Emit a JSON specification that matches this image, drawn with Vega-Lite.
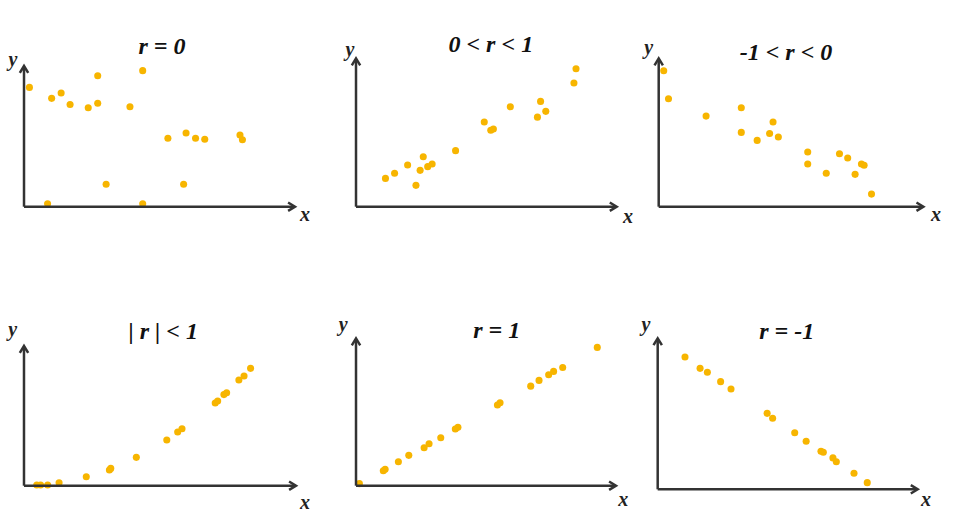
{
  "$schema": "https://vega.github.io/schema/vega-lite/v6.json",
  "padding": 0,
  "background": "white",
  "spacing": 0,
  "config": {"view": {"stroke": null}, "axis": {"disable": true}, "concat": {"spacing": 0}, "text": {"font": "'Liberation Serif', 'Times New Roman', Times, 'DejaVu Serif', serif", "fontStyle": "italic", "fontWeight": "bold", "align": "center", "baseline": "middle"}},
  "datasets": {
    "p1": [{"x":0.20,"y":8.48},{"x":1.02,"y":7.70},{"x":1.37,"y":8.08},{"x":1.70,"y":7.27},{"x":2.37,"y":7.03},{"x":2.72,"y":7.35},{"x":2.72,"y":9.31},{"x":3.91,"y":7.11},{"x":4.38,"y":9.67},{"x":5.31,"y":4.86},{"x":5.98,"y":5.24},{"x":6.33,"y":4.86},{"x":6.67,"y":4.79},{"x":7.97,"y":5.09},{"x":8.06,"y":4.76},{"x":3.03,"y":1.59},{"x":5.89,"y":1.59},{"x":0.87,"y":0.21},{"x":4.38,"y":0.21}],
    "p2": [{"x":1.13,"y":1.91},{"x":1.48,"y":2.25},{"x":1.98,"y":2.81},{"x":2.30,"y":1.44},{"x":2.46,"y":2.45},{"x":2.58,"y":3.37},{"x":2.75,"y":2.70},{"x":2.92,"y":2.88},{"x":3.82,"y":3.78},{"x":4.92,"y":5.71},{"x":5.17,"y":5.15},{"x":5.27,"y":5.24},{"x":5.92,"y":6.74},{"x":6.96,"y":6.04},{"x":7.08,"y":7.10},{"x":7.28,"y":6.43},{"x":8.36,"y":8.34},{"x":8.44,"y":9.30}],
    "p3": [{"x":0.19,"y":9.17},{"x":0.37,"y":7.28},{"x":1.79,"y":6.11},{"x":3.12,"y":6.67},{"x":3.12,"y":5.01},{"x":3.72,"y":4.47},{"x":4.19,"y":4.94},{"x":4.32,"y":5.71},{"x":4.52,"y":4.70},{"x":5.63,"y":3.69},{"x":5.63,"y":2.88},{"x":6.33,"y":2.25},{"x":6.83,"y":3.57},{"x":7.14,"y":3.28},{"x":7.66,"y":2.88},{"x":7.76,"y":2.79},{"x":7.42,"y":2.18},{"x":8.04,"y":0.85}],
    "p4": [{"x":0.47,"y":0.05},{"x":0.61,"y":0.05},{"x":0.87,"y":0.05},{"x":1.29,"y":0.21},{"x":2.29,"y":0.64},{"x":3.14,"y":1.12},{"x":3.19,"y":1.24},{"x":4.13,"y":2.03},{"x":5.25,"y":3.27},{"x":5.65,"y":3.85},{"x":5.81,"y":4.08},{"x":7.03,"y":5.92},{"x":7.12,"y":6.06},{"x":7.35,"y":6.52},{"x":7.45,"y":6.66},{"x":7.90,"y":7.57},{"x":8.09,"y":7.85},{"x":8.33,"y":8.40}],
    "p5": [{"x":0.13,"y":0.14},{"x":1.05,"y":1.02},{"x":1.12,"y":1.11},{"x":1.63,"y":1.63},{"x":2.03,"y":2.06},{"x":2.62,"y":2.58},{"x":2.81,"y":2.85},{"x":3.26,"y":3.26},{"x":3.82,"y":3.85},{"x":3.92,"y":3.96},{"x":5.44,"y":5.48},{"x":5.54,"y":5.63},{"x":6.72,"y":6.76},{"x":7.04,"y":7.15},{"x":7.41,"y":7.53},{"x":7.60,"y":7.76},{"x":7.95,"y":8.03},{"x":9.28,"y":9.39}],
    "p6": [{"x":1.05,"y":8.76},{"x":1.63,"y":8.01},{"x":1.91,"y":7.75},{"x":2.42,"y":7.13},{"x":2.82,"y":6.64},{"x":4.21,"y":5.03},{"x":4.42,"y":4.70},{"x":5.27,"y":3.75},{"x":5.71,"y":3.18},{"x":6.28,"y":2.52},{"x":6.37,"y":2.45},{"x":6.74,"y":2.08},{"x":6.87,"y":1.83},{"x":7.55,"y":1.06},{"x":8.06,"y":0.44}]
  },
  "vconcat": [
    {"hconcat": [
      {"width": 318, "height": 260, "layer": [
        {"data": {"name": "p1"}, "mark": {"type": "circle", "size": 50, "opacity": 1, "color": "#F7B500"}, "encoding": {"x": {"field": "x", "type": "quantitative", "axis": null, "scale": {"domain": [-0.886, 10.849], "nice": false, "zero": false}}, "y": {"field": "y", "type": "quantitative", "axis": null, "scale": {"domain": [-3.788, 14.691], "nice": false, "zero": false}}}},
        {"data": {"values": [{}]}, "mark": {"type": "rule", "color": "#333333", "strokeWidth": 2.5}, "encoding": {"x": {"datum": 0, "type": "quantitative"}, "x2": {"datum": 9.95}, "y": {"datum": 0, "type": "quantitative"}}},
        {"data": {"values": [{}]}, "mark": {"type": "rule", "color": "#333333", "strokeWidth": 2.5}, "encoding": {"x": {"datum": 0, "type": "quantitative"}, "y": {"datum": 0, "type": "quantitative"}, "y2": {"datum": 9.95}}},
        {"data": {"values": [{}]}, "mark": {"type": "point", "shape": "M-2.3,-1.4L0,0L-2.3,1.4", "size": 36, "filled": false, "stroke": "#333333", "strokeWidth": 2.5, "opacity": 1}, "encoding": {"x": {"datum": 10, "type": "quantitative"}, "y": {"datum": 0, "type": "quantitative"}}},
        {"data": {"values": [{}]}, "mark": {"type": "point", "shape": "M-1.4,2.3L0,0L1.4,2.3", "size": 36, "filled": false, "stroke": "#333333", "strokeWidth": 2.5, "opacity": 1}, "encoding": {"x": {"datum": 0, "type": "quantitative"}, "y": {"datum": 10, "type": "quantitative"}}},
        {"data": {"values": [{}]}, "mark": {"type": "text", "text": "r = 0", "fontSize": 24, "color": "#111111"}, "encoding": {"x": {"datum": 5.09, "type": "quantitative"}, "y": {"datum": 11.35, "type": "quantitative"}}},
        {"data": {"values": [{}]}, "mark": {"type": "text", "text": "x", "fontSize": 20, "color": "#222222"}, "encoding": {"x": {"datum": 10.37, "type": "quantitative"}, "y": {"datum": -0.59, "type": "quantitative"}}},
        {"data": {"values": [{}]}, "mark": {"type": "text", "text": "y", "fontSize": 20, "color": "#222222"}, "encoding": {"x": {"datum": -0.41, "type": "quantitative"}, "y": {"datum": 10.43, "type": "quantitative"}}}
      ]},
      {"width": 319, "height": 260, "layer": [
        {"data": {"name": "p2"}, "mark": {"type": "circle", "size": 50, "opacity": 1, "color": "#F7B500"}, "encoding": {"x": {"field": "x", "type": "quantitative", "axis": null, "scale": {"domain": [-1.458, 10.779], "nice": false, "zero": false}}, "y": {"field": "y", "type": "quantitative", "axis": null, "scale": {"domain": [-3.594, 13.938], "nice": false, "zero": false}}}},
        {"data": {"values": [{}]}, "mark": {"type": "rule", "color": "#333333", "strokeWidth": 2.5}, "encoding": {"x": {"datum": 0, "type": "quantitative"}, "x2": {"datum": 9.95}, "y": {"datum": 0, "type": "quantitative"}}},
        {"data": {"values": [{}]}, "mark": {"type": "rule", "color": "#333333", "strokeWidth": 2.5}, "encoding": {"x": {"datum": 0, "type": "quantitative"}, "y": {"datum": 0, "type": "quantitative"}, "y2": {"datum": 9.95}}},
        {"data": {"values": [{}]}, "mark": {"type": "point", "shape": "M-2.3,-1.4L0,0L-2.3,1.4", "size": 36, "filled": false, "stroke": "#333333", "strokeWidth": 2.5, "opacity": 1}, "encoding": {"x": {"datum": 10, "type": "quantitative"}, "y": {"datum": 0, "type": "quantitative"}}},
        {"data": {"values": [{}]}, "mark": {"type": "point", "shape": "M-1.4,2.3L0,0L1.4,2.3", "size": 36, "filled": false, "stroke": "#333333", "strokeWidth": 2.5, "opacity": 1}, "encoding": {"x": {"datum": 0, "type": "quantitative"}, "y": {"datum": 10, "type": "quantitative"}}},
        {"data": {"values": [{}]}, "mark": {"type": "text", "text": "0 < r < 1", "fontSize": 24, "color": "#111111"}, "encoding": {"x": {"datum": 5.17, "type": "quantitative"}, "y": {"datum": 10.90, "type": "quantitative"}}},
        {"data": {"values": [{}]}, "mark": {"type": "text", "text": "x", "fontSize": 20, "color": "#222222"}, "encoding": {"x": {"datum": 10.43, "type": "quantitative"}, "y": {"datum": -0.69, "type": "quantitative"}}},
        {"data": {"values": [{}]}, "mark": {"type": "text", "text": "y", "fontSize": 20, "color": "#222222"}, "encoding": {"x": {"datum": -0.23, "type": "quantitative"}, "y": {"datum": 10.57, "type": "quantitative"}}}
      ]},
      {"width": 319, "height": 260, "layer": [
        {"data": {"name": "p3"}, "mark": {"type": "circle", "size": 50, "opacity": 1, "color": "#F7B500"}, "encoding": {"x": {"field": "x", "type": "quantitative", "axis": null, "scale": {"domain": [-0.820, 11.232], "nice": false, "zero": false}}, "y": {"field": "y", "type": "quantitative", "axis": null, "scale": {"domain": [-3.594, 13.938], "nice": false, "zero": false}}}},
        {"data": {"values": [{}]}, "mark": {"type": "rule", "color": "#333333", "strokeWidth": 2.5}, "encoding": {"x": {"datum": 0, "type": "quantitative"}, "x2": {"datum": 9.95}, "y": {"datum": 0, "type": "quantitative"}}},
        {"data": {"values": [{}]}, "mark": {"type": "rule", "color": "#333333", "strokeWidth": 2.5}, "encoding": {"x": {"datum": 0, "type": "quantitative"}, "y": {"datum": 0, "type": "quantitative"}, "y2": {"datum": 9.95}}},
        {"data": {"values": [{}]}, "mark": {"type": "point", "shape": "M-2.3,-1.4L0,0L-2.3,1.4", "size": 36, "filled": false, "stroke": "#333333", "strokeWidth": 2.5, "opacity": 1}, "encoding": {"x": {"datum": 10, "type": "quantitative"}, "y": {"datum": 0, "type": "quantitative"}}},
        {"data": {"values": [{}]}, "mark": {"type": "point", "shape": "M-1.4,2.3L0,0L1.4,2.3", "size": 36, "filled": false, "stroke": "#333333", "strokeWidth": 2.5, "opacity": 1}, "encoding": {"x": {"datum": 0, "type": "quantitative"}, "y": {"datum": 10, "type": "quantitative"}}},
        {"data": {"values": [{}]}, "mark": {"type": "text", "text": "-1 < r < 0", "fontSize": 24, "color": "#111111"}, "encoding": {"x": {"datum": 4.81, "type": "quantitative"}, "y": {"datum": 10.38, "type": "quantitative"}}},
        {"data": {"values": [{}]}, "mark": {"type": "text", "text": "x", "fontSize": 20, "color": "#222222"}, "encoding": {"x": {"datum": 10.48, "type": "quantitative"}, "y": {"datum": -0.56, "type": "quantitative"}}},
        {"data": {"values": [{}]}, "mark": {"type": "text", "text": "y", "fontSize": 20, "color": "#222222"}, "encoding": {"x": {"datum": -0.38, "type": "quantitative"}, "y": {"datum": 10.68, "type": "quantitative"}}}
      ]}
    ]},
    {"hconcat": [
      {"width": 318, "height": 260, "layer": [
        {"data": {"name": "p4"}, "mark": {"type": "circle", "size": 50, "opacity": 1, "color": "#F7B500"}, "encoding": {"x": {"field": "x", "type": "quantitative", "axis": null, "scale": {"domain": [-0.882, 10.809], "nice": false, "zero": false}}, "y": {"field": "y", "type": "quantitative", "axis": null, "scale": {"domain": [-2.455, 16.156], "nice": false, "zero": false}}}},
        {"data": {"values": [{}]}, "mark": {"type": "rule", "color": "#333333", "strokeWidth": 2.5}, "encoding": {"x": {"datum": 0, "type": "quantitative"}, "x2": {"datum": 9.95}, "y": {"datum": 0, "type": "quantitative"}}},
        {"data": {"values": [{}]}, "mark": {"type": "rule", "color": "#333333", "strokeWidth": 2.5}, "encoding": {"x": {"datum": 0, "type": "quantitative"}, "y": {"datum": 0, "type": "quantitative"}, "y2": {"datum": 9.95}}},
        {"data": {"values": [{}]}, "mark": {"type": "point", "shape": "M-2.3,-1.4L0,0L-2.3,1.4", "size": 36, "filled": false, "stroke": "#333333", "strokeWidth": 2.5, "opacity": 1}, "encoding": {"x": {"datum": 10, "type": "quantitative"}, "y": {"datum": 0, "type": "quantitative"}}},
        {"data": {"values": [{}]}, "mark": {"type": "point", "shape": "M-1.4,2.3L0,0L1.4,2.3", "size": 36, "filled": false, "stroke": "#333333", "strokeWidth": 2.5, "opacity": 1}, "encoding": {"x": {"datum": 0, "type": "quantitative"}, "y": {"datum": 10, "type": "quantitative"}}},
        {"data": {"values": [{}]}, "mark": {"type": "text", "text": "| r | < 1", "fontSize": 24, "color": "#111111"}, "encoding": {"x": {"datum": 5.12, "type": "quantitative"}, "y": {"datum": 11.02, "type": "quantitative"}}},
        {"data": {"values": [{}]}, "mark": {"type": "text", "text": "x", "fontSize": 20, "color": "#222222"}, "encoding": {"x": {"datum": 10.33, "type": "quantitative"}, "y": {"datum": -1.26, "type": "quantitative"}}},
        {"data": {"values": [{}]}, "mark": {"type": "text", "text": "y", "fontSize": 20, "color": "#222222"}, "encoding": {"x": {"datum": -0.42, "type": "quantitative"}, "y": {"datum": 11.15, "type": "quantitative"}}}
      ]},
      {"width": 319, "height": 260, "layer": [
        {"data": {"name": "p5"}, "mark": {"type": "circle", "size": 50, "opacity": 1, "color": "#F7B500"}, "encoding": {"x": {"field": "x", "type": "quantitative", "axis": null, "scale": {"domain": [-1.462, 10.808], "nice": false, "zero": false}}, "y": {"field": "y", "type": "quantitative", "axis": null, "scale": {"domain": [-2.329, 15.323], "nice": false, "zero": false}}}},
        {"data": {"values": [{}]}, "mark": {"type": "rule", "color": "#333333", "strokeWidth": 2.5}, "encoding": {"x": {"datum": 0, "type": "quantitative"}, "x2": {"datum": 9.95}, "y": {"datum": 0, "type": "quantitative"}}},
        {"data": {"values": [{}]}, "mark": {"type": "rule", "color": "#333333", "strokeWidth": 2.5}, "encoding": {"x": {"datum": 0, "type": "quantitative"}, "y": {"datum": 0, "type": "quantitative"}, "y2": {"datum": 9.95}}},
        {"data": {"values": [{}]}, "mark": {"type": "point", "shape": "M-2.3,-1.4L0,0L-2.3,1.4", "size": 36, "filled": false, "stroke": "#333333", "strokeWidth": 2.5, "opacity": 1}, "encoding": {"x": {"datum": 10, "type": "quantitative"}, "y": {"datum": 0, "type": "quantitative"}}},
        {"data": {"values": [{}]}, "mark": {"type": "point", "shape": "M-1.4,2.3L0,0L1.4,2.3", "size": 36, "filled": false, "stroke": "#333333", "strokeWidth": 2.5, "opacity": 1}, "encoding": {"x": {"datum": 0, "type": "quantitative"}, "y": {"datum": 10, "type": "quantitative"}}},
        {"data": {"values": [{}]}, "mark": {"type": "text", "text": "r = 1", "fontSize": 24, "color": "#111111"}, "encoding": {"x": {"datum": 5.41, "type": "quantitative"}, "y": {"datum": 10.50, "type": "quantitative"}}},
        {"data": {"values": [{}]}, "mark": {"type": "text", "text": "x", "fontSize": 20, "color": "#222222"}, "encoding": {"x": {"datum": 10.28, "type": "quantitative"}, "y": {"datum": -0.97, "type": "quantitative"}}},
        {"data": {"values": [{}]}, "mark": {"type": "text", "text": "y", "fontSize": 20, "color": "#222222"}, "encoding": {"x": {"datum": -0.49, "type": "quantitative"}, "y": {"datum": 10.91, "type": "quantitative"}}}
      ]},
      {"width": 319, "height": 260, "layer": [
        {"data": {"name": "p6"}, "mark": {"type": "circle", "size": 50, "opacity": 1, "color": "#F7B500"}, "encoding": {"x": {"field": "x", "type": "quantitative", "axis": null, "scale": {"domain": [-0.796, 11.473], "nice": false, "zero": false}}, "y": {"field": "y", "type": "quantitative", "axis": null, "scale": {"domain": [-2.033, 15.185], "nice": false, "zero": false}}}},
        {"data": {"values": [{}]}, "mark": {"type": "rule", "color": "#333333", "strokeWidth": 2.5}, "encoding": {"x": {"datum": 0, "type": "quantitative"}, "x2": {"datum": 9.95}, "y": {"datum": 0, "type": "quantitative"}}},
        {"data": {"values": [{}]}, "mark": {"type": "rule", "color": "#333333", "strokeWidth": 2.5}, "encoding": {"x": {"datum": 0, "type": "quantitative"}, "y": {"datum": 0, "type": "quantitative"}, "y2": {"datum": 9.95}}},
        {"data": {"values": [{}]}, "mark": {"type": "point", "shape": "M-2.3,-1.4L0,0L-2.3,1.4", "size": 36, "filled": false, "stroke": "#333333", "strokeWidth": 2.5, "opacity": 1}, "encoding": {"x": {"datum": 10, "type": "quantitative"}, "y": {"datum": 0, "type": "quantitative"}}},
        {"data": {"values": [{}]}, "mark": {"type": "point", "shape": "M-1.4,2.3L0,0L1.4,2.3", "size": 36, "filled": false, "stroke": "#333333", "strokeWidth": 2.5, "opacity": 1}, "encoding": {"x": {"datum": 0, "type": "quantitative"}, "y": {"datum": 10, "type": "quantitative"}}},
        {"data": {"values": [{}]}, "mark": {"type": "text", "text": "r = -1", "fontSize": 24, "color": "#111111"}, "encoding": {"x": {"datum": 4.96, "type": "quantitative"}, "y": {"datum": 10.44, "type": "quantitative"}}},
        {"data": {"values": [{}]}, "mark": {"type": "text", "text": "x", "fontSize": 20, "color": "#222222"}, "encoding": {"x": {"datum": 10.32, "type": "quantitative"}, "y": {"datum": -0.71, "type": "quantitative"}}},
        {"data": {"values": [{}]}, "mark": {"type": "text", "text": "y", "fontSize": 20, "color": "#222222"}, "encoding": {"x": {"datum": -0.45, "type": "quantitative"}, "y": {"datum": 10.88, "type": "quantitative"}}}
      ]}
    ]}
  ]
}
